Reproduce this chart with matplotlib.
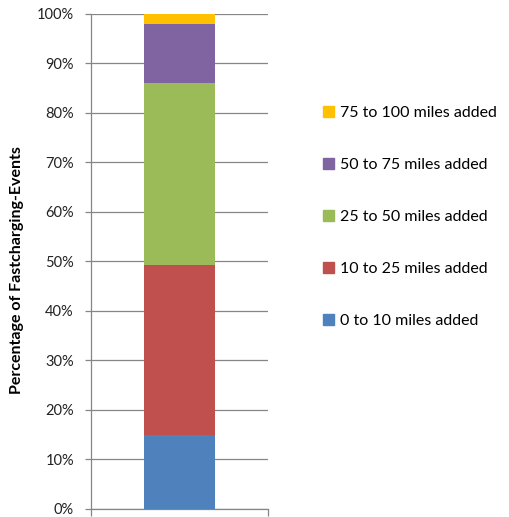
import matplotlib

matplotlib.use("Agg")
import matplotlib.pyplot as plt
from matplotlib.patches import Patch
from matplotlib.ticker import PercentFormatter

# stacked shares of fast-charging events, bottom to top (percent)
categories = ["0 to 10 miles added", "10 to 25 miles added",
              "25 to 50 miles added", "50 to 75 miles added",
              "75 to 100 miles added"]
shares = [14.9, 34.4, 36.8, 11.9, 2.0]
colors = ["#4F81BD", "#C0504D", "#9BBB59", "#8064A2", "#FFC000"]
yticks = list(range(0, 101, 10))

GRIDC = "#868686"
plt.rcParams.update({"font.family": ["Lato", "DejaVu Sans"], "font.size": 10.5})

fig = plt.figure(figsize=(5.09, 5.17), dpi=100)
ax = fig.add_axes([0.178, 0.016, 0.348, 0.957])

bottom = 0.0
for val, c in zip(shares, colors):
    ax.bar(0, val, width=0.4, bottom=bottom, color=c, zorder=3)
    bottom += val

ax.set_xlim(-0.5, 0.5)
ax.set_ylim(0, 100)
ax.set_yticks(yticks)
ax.yaxis.set_major_formatter(PercentFormatter(decimals=0))
ax.set_xticks([-0.5, 0.5])
ax.set_xticklabels([])
ax.grid(axis="y", color=GRIDC, lw=0.9, zorder=0)
for s in ("top", "right"):
    ax.spines[s].set_visible(False)
for s in ("left", "bottom"):
    ax.spines[s].set_color(GRIDC)
    ax.spines[s].set_linewidth(0.9)
ax.tick_params(axis="y", length=4, color=GRIDC, width=0.9, pad=8,
               labelcolor="#222222")
ax.tick_params(axis="x", length=5, color=GRIDC, width=0.9)
ax.set_ylabel("Percentage of Fastcharging-Events", fontweight="bold",
              fontsize=11.5)
ax.yaxis.set_label_coords(-0.375, 0.483)

handles = [Patch(color=c, label=l) for c, l in zip(colors, categories)][::-1]
fig.legend(handles=handles, loc="upper left", bbox_to_anchor=(0.622, 0.807),
           frameon=False, handlelength=0.7, handleheight=0.7, fontsize=11.5,
           handletextpad=0.35, labelspacing=2.37, borderaxespad=0)

fig.savefig("out.png", dpi=100)
